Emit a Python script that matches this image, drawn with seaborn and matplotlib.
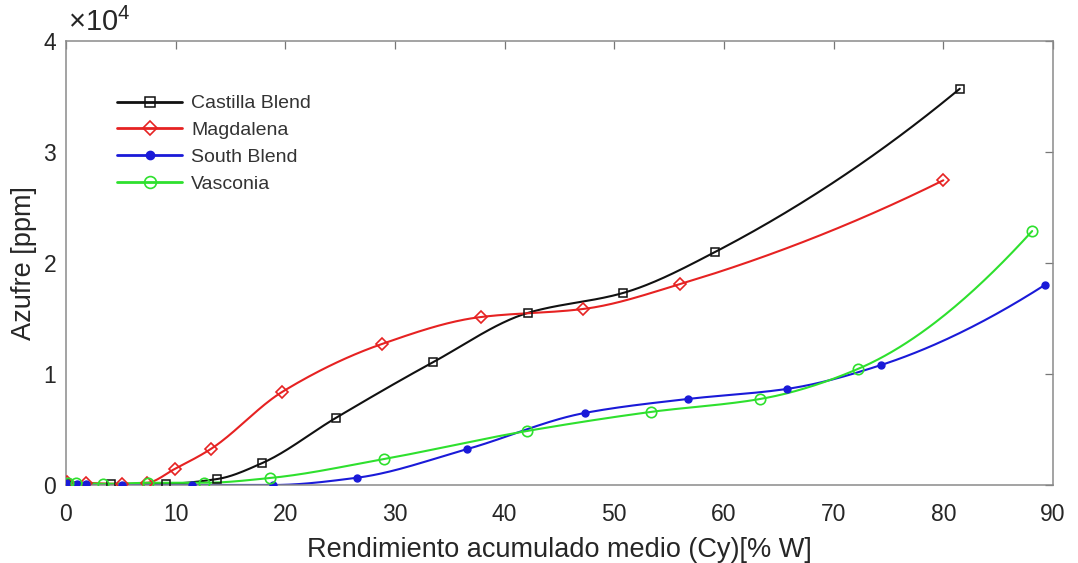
import numpy as np
import pandas as pd
import matplotlib
matplotlib.use("Agg")
import matplotlib.pyplot as plt
from matplotlib.lines import Line2D
from matplotlib.ticker import FuncFormatter
import seaborn as sns

# ---------------- data ----------------
castilla_x = [0.0, 4.1, 9.1, 13.8, 17.9, 24.6, 33.5, 42.1, 50.8, 59.2, 81.5]
castilla_y = [200, 50, 100, 540, 1980, 6040, 11080, 15500, 17300, 21000, 35700]

magdalena_x = [0.1, 1.8, 5.1, 7.4, 9.9, 13.2, 19.7, 28.8, 37.8, 47.1, 56.0, 80.0]
magdalena_y = [300, 200, 100, 200, 1440, 3240, 8380, 12700, 15130, 15850, 18100, 27450]

south_x = [0.0, 1.0, 1.8, 5.1, 11.5, 18.9, 26.5, 36.6, 47.3, 56.7, 65.7, 74.3, 89.3]
south_y = [200, 100, 100, 0, 0, 0, 650, 3240, 6490, 7750, 8650, 10800, 18050]

vasconia_x = [0.2, 0.9, 3.4, 7.5, 12.6, 18.6, 29.0, 42.0, 53.3, 63.3, 72.2, 88.1]
vasconia_y = [200, 200, 100, 200, 200, 630, 2340, 4860, 6580, 7750, 10450, 22880]

series_names = ["Castilla Blend", "Magdalena", "South Blend", "Vasconia"]
x_ticks = [0, 10, 20, 30, 40, 50, 60, 70, 80, 90]
y_ticks = [0, 10000, 20000, 30000, 40000]
x_label = "Rendimiento acumulado medio (Cy)[% W]"
y_label = "Azufre [ppm]"

# ---------------- styles ----------------
styles = {
    "Castilla Blend": dict(color="#111111", marker="s", ms=5.5, mfc="none", mew=1.1),
    "Magdalena": dict(color="#e62222", marker="D", ms=6.5, mfc="none", mew=1.2),
    "South Blend": dict(color="#1a1ad8", marker="o", ms=5, mfc="#1a1ad8", mew=1.0),
    "Vasconia": dict(color="#2ee02e", marker="o", ms=7.5, mfc="none", mew=1.2),
}


def pchip(x, y, xs):
    x = np.asarray(x, float)
    y = np.asarray(y, float)
    h = np.diff(x)
    d = np.diff(y) / h
    n = len(x)
    m = np.zeros(n)
    for k in range(1, n - 1):
        if d[k - 1] * d[k] > 0:
            w1 = 2 * h[k] + h[k - 1]
            w2 = h[k] + 2 * h[k - 1]
            m[k] = (w1 + w2) / (w1 / d[k - 1] + w2 / d[k])

    def end(h0, h1, d0, d1):
        v = ((2 * h0 + h1) * d0 - h0 * d1) / (h0 + h1)
        if np.sign(v) != np.sign(d0):
            v = 0.0
        elif np.sign(d0) != np.sign(d1) and abs(v) > abs(3 * d0):
            v = 3 * d0
        return v

    m[0] = end(h[0], h[1], d[0], d[1])
    m[-1] = end(h[-1], h[-2], d[-1], d[-2])
    idx = np.clip(np.searchsorted(x, xs) - 1, 0, n - 2)
    t = (xs - x[idx]) / h[idx]
    h00 = 2 * t**3 - 3 * t**2 + 1
    h10 = t**3 - 2 * t**2 + t
    h01 = -2 * t**3 + 3 * t**2
    h11 = t**3 - t**2
    return h00 * y[idx] + h10 * h[idx] * m[idx] + h01 * y[idx + 1] + h11 * h[idx] * m[idx + 1]


raw = {
    "Castilla Blend": (castilla_x, castilla_y),
    "Magdalena": (magdalena_x, magdalena_y),
    "South Blend": (south_x, south_y),
    "Vasconia": (vasconia_x, vasconia_y),
}

pts_frames, curve_frames = [], []
for name in series_names:
    xs, ys = raw[name]
    pts_frames.append(pd.DataFrame({"x": xs, "y": ys, "serie": name}))
    xx = np.linspace(xs[0], xs[-1], 400)
    curve_frames.append(pd.DataFrame({"x": xx, "y": pchip(xs, ys, xx), "serie": name}))
pts = pd.concat(pts_frames, ignore_index=True)
curves = pd.concat(curve_frames, ignore_index=True)

# ---------------- plot ----------------
sns.set_theme(style="white")
plt.rcParams["font.family"] = ["Liberation Sans", "DejaVu Sans"]
plt.rcParams["mathtext.fontset"] = "custom"
plt.rcParams["mathtext.rm"] = "Liberation Sans"
plt.rcParams["mathtext.it"] = "Liberation Sans"

fig = plt.figure(figsize=(10.78, 5.63), dpi=100)
ax = fig.add_axes([66 / 1078, 1 - 485 / 563, 987 / 1078, 444 / 563])

palette = {n: styles[n]["color"] for n in series_names}
sns.lineplot(data=curves, x="x", y="y", hue="serie", palette=palette, sort=False,
             estimator=None, linewidth=1.5, legend=False, ax=ax)
for name in series_names:
    s = styles[name]
    sub = pts[pts["serie"] == name]
    ax.plot(sub["x"], sub["y"], linestyle="none", marker=s["marker"], ms=s["ms"],
            mfc=s["mfc"], mec=s["color"], mew=s["mew"], zorder=3)

ax.set_xlim(0, 90)
ax.set_ylim(0, 40000)
ax.set_xticks(x_ticks)
ax.set_yticks(y_ticks)
ax.yaxis.set_major_formatter(FuncFormatter(lambda v, p: f"{v / 1e4:g}"))
ax.tick_params(direction="in", length=6, width=0.9, color="#777777",
               top=True, right=True, labelsize=16.5, labelcolor="#262626")
ax.tick_params(axis="x", pad=13)
ax.tick_params(axis="y", pad=7)
for sp in ax.spines.values():
    sp.set_color("#8a8a8a")
    sp.set_linewidth(1.1)

ax.set_xlabel(x_label, fontsize=19.5, color="#262626", labelpad=8)
ax.set_ylabel(y_label, fontsize=19.5, color="#262626", labelpad=5)
ax.text(0.002, 1.008, r"$\times\mathrm{10}^{\mathrm{4}}$", transform=ax.transAxes,
        fontsize=21, color="#262626", ha="left", va="bottom")

handles = []
for name in series_names:
    s = styles[name]
    handles.append(Line2D([0], [0], color=s["color"], lw=2.0, marker=s["marker"],
                          ms=s["ms"] + 1, mfc=s["mfc"], mec=s["color"], mew=s["mew"]))
ax.legend(handles, series_names, loc="upper left", bbox_to_anchor=(0.052, 0.879),
          frameon=False, fontsize=14, handlelength=3.34, handletextpad=0.45,
          labelspacing=0.47, borderpad=0, borderaxespad=0, labelcolor="#333333")

fig.savefig("out.png", dpi=100)
